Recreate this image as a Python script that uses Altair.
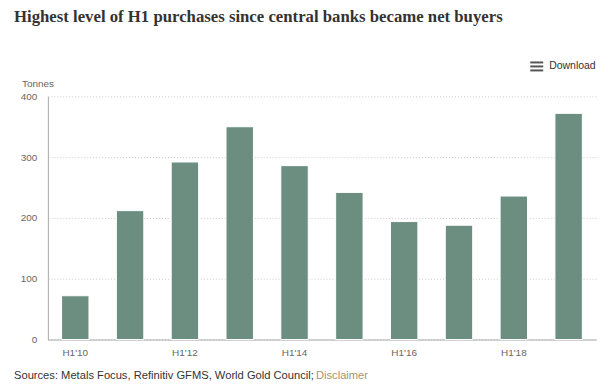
import altair as alt
import pandas as pd

periods = ["H1'10", "H1'11", "H1'12", "H1'13", "H1'14", "H1'15", "H1'16", "H1'17", "H1'18", "H1'19"]
tonnes = [72, 212, 292, 350, 286, 242, 194, 188, 236, 372]
label_periods = ["H1'10", "H1'12", "H1'14", "H1'16", "H1'18"]
y_ticks = [0, 100, 200, 300, 400]

title_text = "Highest level of H1 purchases since central banks became net buyers"
source_text = "Sources: Metals Focus, Refinitiv GFMS, World Gold Council;"
disclaimer_text = "Disclaimer"
unit_text = "Tonnes"
download_text = "Download"

df = pd.DataFrame({"period": periods, "tonnes": tonnes})
one = pd.DataFrame({"k": [0]})

SANS = "Liberation Sans"

bars = alt.Chart(df).mark_bar(color="#6b8e81", stroke="#ffffff", strokeWidth=1).encode(
    x=alt.X("period:N", sort=periods, title=None,
            scale=alt.Scale(paddingInner=0.5, paddingOuter=0.25),
            axis=alt.Axis(values=label_periods, labelAngle=0, ticks=False, labelPadding=8,
                          labelColor="#666666", labelFontSize=10, labelFont=SANS,
                          domainColor="#aaaaaa", grid=False)),
    y=alt.Y("tonnes:Q", title=None,
            scale=alt.Scale(domain=[0, 400], nice=False),
            axis=alt.Axis(values=y_ticks, ticks=False, labelPadding=11, labelColor="#666666",
                          labelFontSize=10, labelFont=SANS, domain=True, domainColor="#aaaaaa",
                          grid=True, gridColor="#cccccc", gridDash=[1, 2],
                          gridOpacity=1)),
)

def txt(text, x, y, size, color, font=SANS, weight="normal", align="left", baseline="middle"):
    return alt.Chart(one).mark_text(
        text=text, fontSize=size, color=color, font=font, fontWeight=weight,
        align=align, baseline=baseline
    ).encode(x=alt.value(x), y=alt.value(y))

title = txt(title_text, -34, -75, 16.8, "#333333", font="Liberation Serif", weight="bold",
            baseline="alphabetic")
unit = txt(unit_text, -26, -12, 10, "#666666")
download = txt(download_text, 503, -30, 10.5, "#333333")
source = txt(source_text, -34, 281, 11.2, "#333333")
disclaimer = txt(disclaimer_text, 269, 281, 11.2, "#a8946f")

icon = [
    alt.Chart(one).mark_rule(color="#555555", strokeWidth=2).encode(
        x=alt.value(484), x2=alt.value(497), y=alt.value(yy))
    for yy in (-34, -30, -26)
]

chart = alt.layer(bars, title, unit, download, source, disclaimer, *icon).properties(
    width=550, height=244,
    autosize=alt.AutoSizeParams(type="none"),
    padding={"left": 40, "top": 88, "right": 12, "bottom": 50},
).configure_view(stroke=None)

chart.save("out.html", embed_options={"renderer": "svg", "actions": False})
